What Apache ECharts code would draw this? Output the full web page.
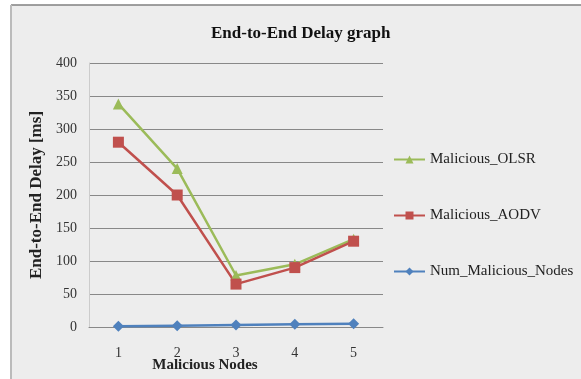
<!DOCTYPE html>
<html>
<head>
<meta charset="utf-8">
<script src="https://cdn.jsdelivr.net/npm/echarts@6/dist/echarts.min.js"></script>
<style>
  html, body { margin: 0; padding: 0; background: #fff; }
  #chart { width: 581px; height: 379px; }
</style>
</head>
<body>
<div id="chart"></div>
<script>
// values
var nodes = ['1', '2', '3', '4', '5'];
var olsr = [338, 240, 78, 95, 133];
var aodv = [280, 200, 65, 90, 130];
var numMalicious = [1, 2, 3, 4, 5];

var serif = 'Liberation Serif';
var chart = echarts.init(document.getElementById('chart'));

chart.setOption({
    animation: false,
    backgroundColor: '#fff',
    graphic: [
        // chart area background and the frame edges
        { type: 'rect', shape: { x: 11, y: 5, width: 575, height: 380 }, style: { fill: '#ededed', stroke: null }, z: -10 },
        { type: 'line', shape: { x1: 11, y1: 5, x2: 581, y2: 5 }, style: { stroke: '#808080', lineWidth: 1.5 }, z: -5 },
        { type: 'line', shape: { x1: 11, y1: 5, x2: 11, y2: 379 }, style: { stroke: '#bbbbbb', lineWidth: 2 }, z: -5 }
    ],
    title: {
        text: 'End-to-End Delay graph',
        left: 206,
        top: 20,
        textStyle: { fontFamily: serif, fontSize: 17, fontWeight: 'bold', color: '#111' }
    },
    legend: {
        orient: 'vertical',
        left: 388,
        top: 147,
        itemWidth: 31,
        itemHeight: 10,
        itemGap: 41,
        textStyle: { fontFamily: serif, fontSize: 15, color: '#222' },
        data: ['Malicious_OLSR', 'Malicious_AODV', 'Num_Malicious_Nodes']
    },
    grid: { left: 89, right: 198, top: 63, bottom: 52, outerBoundsMode: 'none' },
    xAxis: {
        type: 'category',
        data: nodes,
        name: 'Malicious Nodes',
        nameLocation: 'middle',
        nameGap: 31,
        nameMoveOverlap: false,
        nameTextStyle: { fontFamily: serif, fontSize: 15, fontWeight: 'bold', color: '#222', padding: [0, 62, 0, 0] },
        axisLine: { lineStyle: { color: '#888' } },
        axisTick: { show: false },
        axisLabel: { fontFamily: serif, fontSize: 14, color: '#333', margin: 19 }
    },
    yAxis: {
        type: 'value',
        min: 0,
        max: 400,
        interval: 50,
        name: 'End-to-End Delay [ms]',
        nameLocation: 'middle',
        nameGap: 44,
        nameMoveOverlap: false,
        nameTextStyle: { fontFamily: serif, fontSize: 17, fontWeight: 'bold', color: '#222' },
        axisLine: { show: true, lineStyle: { color: '#cccccc' } },
        axisTick: { show: false },
        axisLabel: { fontFamily: serif, fontSize: 14, color: '#333', margin: 12 },
        splitLine: { lineStyle: { color: '#888' } }
    },
    series: [
        {
            name: 'Malicious_OLSR',
            type: 'line',
            data: olsr,
            symbol: 'triangle',
            symbolSize: 11,
            color: '#9bbb59',
            lineStyle: { width: 2.5 }
        },
        {
            name: 'Malicious_AODV',
            type: 'line',
            data: aodv,
            symbol: 'rect',
            symbolSize: 11,
            color: '#c0504d',
            lineStyle: { width: 2.5 }
        },
        {
            name: 'Num_Malicious_Nodes',
            type: 'line',
            data: numMalicious,
            symbol: 'diamond',
            symbolSize: 11,
            color: '#4f81bd',
            lineStyle: { width: 2.5 }
        }
    ]
});
</script>
</body>
</html>
